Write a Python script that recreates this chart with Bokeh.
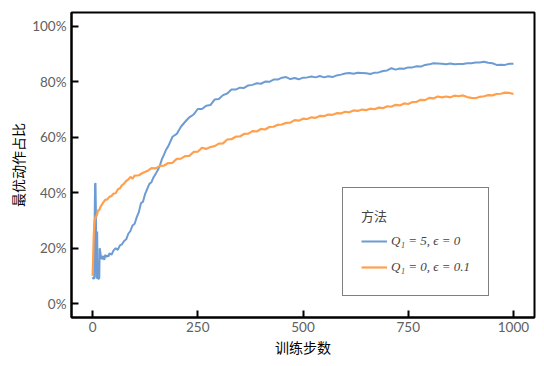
from bokeh.plotting import figure
from bokeh.models import Legend, LegendItem, NumeralTickFormatter, FixedTicker, Range1d
from bokeh.embed import file_html
from bokeh.resources import INLINE

# ---- data ----
blue_steps = [0, 2, 4, 5, 6, 7, 8, 9, 10, 11, 12, 13, 15, 16, 17, 18, 20, 22, 25, 28, 30, 33, 35, 38, 40,
              45, 50, 55, 60, 65, 70, 75, 80, 85, 90, 95, 100, 105, 110, 115, 120, 125, 130, 135, 140,
              145, 150, 155, 160, 165, 170, 175, 180, 190, 200, 210, 220, 230, 240, 250, 260, 270, 280,
              290, 300, 310, 320, 330, 340, 350, 360, 370, 380, 390, 400, 410, 420, 430, 440, 450, 460,
              470, 480, 490, 500, 510, 520, 530, 540, 550, 560, 570, 580, 590, 600, 610, 620, 630, 640,
              650, 660, 670, 680, 690, 700, 710, 720, 730, 740, 750, 760, 770, 780, 790, 800, 810, 820,
              830, 840, 850, 860, 870, 880, 890, 900, 910, 920, 930, 940, 950, 960, 970, 980, 990, 1000]
blue_vals = [0.095, 0.090, 0.092, 0.300, 0.430, 0.435, 0.330, 0.100, 0.090, 0.260, 0.100, 0.090, 0.090,
             0.092, 0.200, 0.190, 0.170, 0.160, 0.172, 0.158, 0.176, 0.168, 0.174, 0.170, 0.182,
             0.176, 0.192, 0.200, 0.194, 0.210, 0.214, 0.226, 0.232, 0.252, 0.262, 0.282, 0.288, 0.312,
             0.330, 0.362, 0.368, 0.396, 0.414, 0.432, 0.438, 0.456, 0.468, 0.482, 0.498, 0.522, 0.538,
             0.556, 0.568, 0.602, 0.612, 0.638, 0.656, 0.672, 0.682, 0.702, 0.702, 0.714, 0.716, 0.736,
             0.738, 0.752, 0.758, 0.772, 0.772, 0.779, 0.778, 0.787, 0.789, 0.795, 0.793, 0.801, 0.800,
             0.808, 0.808, 0.815, 0.817, 0.810, 0.814, 0.809, 0.815, 0.816, 0.819, 0.816, 0.821, 0.816,
             0.820, 0.817, 0.823, 0.826, 0.830, 0.832, 0.829, 0.833, 0.832, 0.831, 0.828, 0.833, 0.834,
             0.839, 0.841, 0.849, 0.844, 0.848, 0.847, 0.852, 0.852, 0.856, 0.855, 0.861, 0.863, 0.867,
             0.866, 0.865, 0.863, 0.866, 0.863, 0.864, 0.864, 0.867, 0.867, 0.870, 0.870, 0.872, 0.869,
             0.867, 0.861, 0.862, 0.861, 0.865, 0.865]

orange_steps = [0, 1, 2, 3, 4, 5, 7, 10, 13, 16, 20, 25, 30, 35, 40, 45, 50, 55, 60, 65, 70, 75, 80, 85,
                90, 95, 100, 110, 120, 130, 140, 150, 160, 170, 180, 190, 200, 210, 220, 230, 240, 250,
                260, 270, 280, 290, 300, 310, 320, 330, 340, 350, 360, 370, 380, 390, 400, 410, 420, 430,
                440, 450, 460, 470, 480, 490, 500, 510, 520, 530, 540, 550, 560, 570, 580, 590, 600, 610,
                620, 630, 640, 650, 660, 670, 680, 690, 700, 710, 720, 730, 740, 750, 760, 770, 780, 790,
                800, 810, 820, 830, 840, 850, 860, 870, 880, 890, 900, 910, 920, 930, 940, 950, 960, 970,
                980, 990, 1000]
orange_vals = [0.100, 0.140, 0.200, 0.250, 0.280, 0.300, 0.312, 0.318, 0.336, 0.338, 0.352, 0.363, 0.374,
               0.376, 0.385, 0.388, 0.397, 0.398, 0.412, 0.416, 0.427, 0.433, 0.442, 0.448, 0.457, 0.451,
               0.462, 0.463, 0.472, 0.478, 0.489, 0.488, 0.497, 0.498, 0.507, 0.508, 0.522, 0.523, 0.532,
               0.533, 0.547, 0.548, 0.562, 0.558, 0.565, 0.568, 0.577, 0.578, 0.592, 0.593, 0.602, 0.603,
               0.612, 0.613, 0.622, 0.621, 0.630, 0.628, 0.637, 0.638, 0.645, 0.646, 0.652, 0.653, 0.662,
               0.660, 0.667, 0.666, 0.672, 0.670, 0.677, 0.676, 0.682, 0.681, 0.687, 0.686, 0.692, 0.690,
               0.697, 0.695, 0.700, 0.698, 0.703, 0.701, 0.707, 0.705, 0.712, 0.710, 0.717, 0.715, 0.722,
               0.720, 0.727, 0.728, 0.735, 0.734, 0.742, 0.740, 0.747, 0.744, 0.747, 0.744, 0.750, 0.748,
               0.751, 0.745, 0.742, 0.741, 0.746, 0.748, 0.752, 0.751, 0.756, 0.757, 0.761, 0.760, 0.756]

labels = ["Q\u2081 = 5, \u03f5 = 0", "Q\u2081 = 0, \u03f5 = 0.1"]
x_ticks = [0, 250, 500, 750, 1000]
y_ticks = [0, 0.2, 0.4, 0.6, 0.8, 1.0]
x_title = "训练步数"
y_title = "最优动作占比"
legend_title = "方法"

BLUE = "#6d9bd3"
ORANGE = "#ffa04e"

p = figure(width=540, height=362, output_backend="svg", toolbar_location=None,
           x_range=Range1d(-50, 1050), y_range=Range1d(-0.05, 1.05),
           min_border_left=71, min_border_right=6, min_border_top=12, min_border_bottom=45)

r1 = p.line(blue_steps, blue_vals, line_color=BLUE, line_width=2)
r2 = p.line(orange_steps, orange_vals, line_color=ORANGE, line_width=2.2)

p.xgrid.visible = False
p.ygrid.visible = False
p.outline_line_color = "black"
p.outline_line_width = 2

for ax in (p.xaxis[0], p.yaxis[0]):
    ax.axis_line_color = "black"
    ax.axis_line_width = 2
    ax.major_tick_line_color = "black"
    ax.major_tick_line_width = 2
    ax.major_tick_in = 7
    ax.major_tick_out = 0
    ax.minor_tick_line_color = None
    ax.major_label_text_font = "Lato"
    ax.major_label_text_font_size = "13.5px"
    ax.major_label_text_color = "#606060"
    ax.axis_label_text_font = "Noto Sans CJK SC"
    ax.axis_label_text_font_size = "14px"
    ax.axis_label_text_font_style = "normal"
    ax.axis_label_text_color = "black"

p.xaxis.ticker = FixedTicker(ticks=x_ticks)
p.yaxis.ticker = FixedTicker(ticks=y_ticks)
p.yaxis.formatter = NumeralTickFormatter(format="0%")
p.xaxis.axis_label = x_title
p.yaxis.axis_label = y_title
p.xaxis.major_label_standoff = 4
p.yaxis.major_label_standoff = 5
p.xaxis.axis_label_standoff = 2
p.yaxis.axis_label_standoff = 1

legend = Legend(items=[LegendItem(label=labels[0], renderers=[r1]),
                       LegendItem(label=labels[1], renderers=[r2])],
                location=(271, 21), title=legend_title)
legend.title_text_font = "Noto Sans CJK SC"
legend.title_text_font_size = "13px"
legend.title_text_font_style = "normal"
legend.title_standoff = 6
legend.label_text_font = "Liberation Serif"
legend.label_text_font_style = "italic"
legend.label_text_font_size = "13px"
legend.border_line_color = "black"
legend.border_line_width = 1.5
legend.background_fill_color = "white"
legend.background_fill_alpha = 1
legend.padding = 18
legend.spacing = 6
legend.label_height = 20
legend.glyph_height = 20
legend.glyph_width = 26
legend.label_standoff = 4
legend.margin = 0
p.add_layout(legend)

open("out.html", "w").write(file_html(p, INLINE))
